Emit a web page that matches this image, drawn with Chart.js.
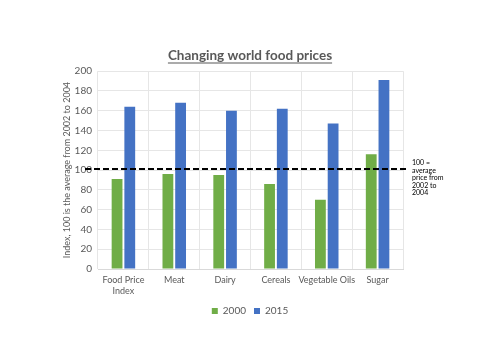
<!DOCTYPE html>
<html><head><meta charset="utf-8">
<script src="https://cdn.jsdelivr.net/npm/chart.js@4"></script>
<style>html,body{margin:0;padding:0;background:#fff}#wrap{width:500px;height:354px}</style>
</head><body><div id="wrap"><canvas id="c" width="500" height="354"></canvas></div>
<script>
const categories = [["Food Price","Index"], "Meat", "Dairy", "Cereals", "Vegetable Oils", "Sugar"];
const series2000 = [91, 96, 95, 86, 70, 116];
const series2015 = [164, 168, 160, 162, 147, 191];
const yTicks = [0, 20, 40, 60, 80, 100, 120, 140, 160, 180, 200];
const referenceLevel = 101;
const referenceNote = ["100 =", "average", "price from", "2002 to", "2004"];
const titleText = "Changing world food prices";

const FONT = "Lato, 'Open Sans', sans-serif";
const GREY = "#595959";
const TITLE_SIZE = 13.5;

const titleUnderline = {
  id: 'titleUnderline',
  afterDraw(chart) {
    const t = chart.titleBlock;
    if (!t) return;
    const ctx = chart.ctx;
    ctx.save();
    ctx.font = "bold " + TITLE_SIZE + "px " + FONT;
    const w = ctx.measureText(titleText).width;
    const cx = (t.left + t.right) / 2;
    const y = t.top + t.options.padding.top + 15;
    ctx.strokeStyle = GREY; ctx.lineWidth = 1.2;
    ctx.beginPath(); ctx.moveTo(cx - w/2, y); ctx.lineTo(cx + w/2, y); ctx.stroke();
    ctx.restore();
  }
};

const refLine = {
  id: 'refLine',
  afterDatasetsDraw(chart) {
    const ys = chart.scales.y, ca = chart.chartArea, ctx = chart.ctx;
    const py = ys.getPixelForValue(referenceLevel);
    ctx.save();
    ctx.strokeStyle = "#000"; ctx.lineWidth = 2; ctx.setLineDash([6, 3]);
    ctx.beginPath(); ctx.moveTo(ca.left - 13, py); ctx.lineTo(ca.right + 3, py); ctx.stroke();
    ctx.setLineDash([]);
    ctx.fillStyle = "#000"; ctx.font = "7px " + FONT; ctx.textBaseline = "middle";
    referenceNote.forEach((s, i) => ctx.fillText(s, ca.right + 9, py - 6 + i * 7.5));
    ctx.restore();
  }
};

new Chart(document.getElementById('c'), {
  type: 'bar',
  data: {
    labels: categories,
    datasets: [
      { label: '2000', data: series2000, backgroundColor: '#70AD47', categoryPercentage: 0.5, barPercentage: 0.85 },
      { label: '2015', data: series2015, backgroundColor: '#4472C4', categoryPercentage: 0.5, barPercentage: 0.85 }
    ]
  },
  options: {
    responsive: false,
    animation: false,
    layout: { padding: { left: 62, right: 62, top: 48, bottom: 28 } },
    plugins: {
      title: { display: true, text: titleText, color: GREY, font: { family: FONT, size: TITLE_SIZE, weight: 'bold' }, padding: { top: 0, bottom: 7 } },
      legend: { position: 'bottom', labels: { color: GREY, font: { family: FONT, size: 10 }, boxWidth: 6, boxHeight: 6, padding: 8 } },
      tooltip: { enabled: false }
    },
    scales: {
      x: {
        grid: { color: '#e6e6e6', drawTicks: false, offset: true },
        border: { color: '#d9d9d9' },
        ticks: { color: GREY, font: { family: FONT, size: 9 }, padding: 6, maxRotation: 0, autoSkip: false },
        afterFit(s) { s.height = 29; }
      },
      y: {
        min: 0, max: 200,
        afterBuildTicks(s) { s.ticks = yTicks.map(v => ({ value: v })); },
        grid: { color: '#e6e6e6', drawTicks: false },
        border: { display: false },
        ticks: { color: GREY, font: { family: FONT, size: 10 }, padding: 6 },
        title: { display: true, text: 'Index, 100 is the average from 2002 to 2004', color: GREY, font: { family: FONT, size: 9 }, padding: 0 },
        afterFit(s) { s.width = 36; }
      },
      yRight: {
        position: 'right',
        display: true,
        grid: { display: false, drawTicks: false },
        border: { display: false },
        ticks: { display: false },
        afterFit(s) { s.width = 35; }
      }
    }
  },
  plugins: [titleUnderline, refLine]
});
</script></body></html>
